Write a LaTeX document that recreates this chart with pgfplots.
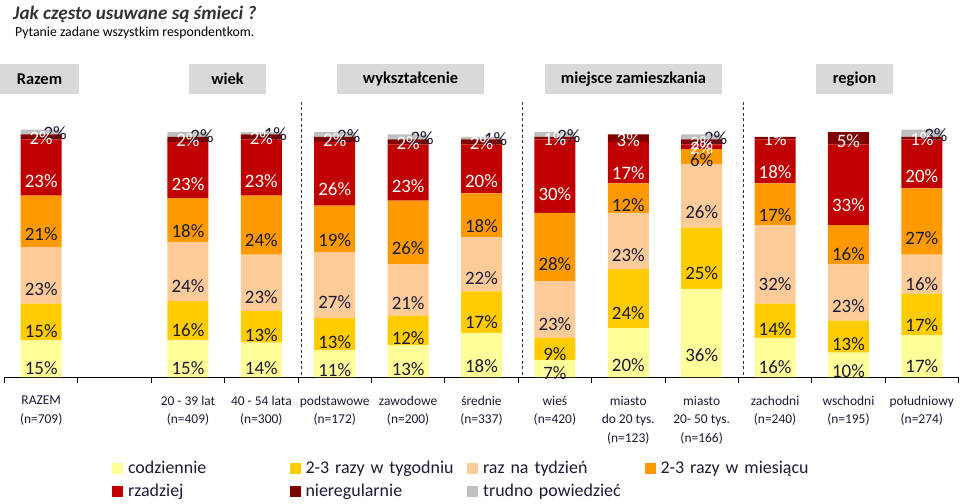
\documentclass[border=0pt]{standalone}
\usepackage{fontspec}
\setmainfont{Carlito}
\usepackage{pgfplots}
\pgfplotsset{compat=1.18}
\usepackage{pgfplotstable}
\definecolor{c1}{HTML}{FFFF99}
\definecolor{c2}{HTML}{FFCC00}
\definecolor{c3}{HTML}{FFCC99}
\definecolor{c4}{HTML}{FF9900}
\definecolor{c5}{HTML}{C00000}
\definecolor{c6}{HTML}{800000}
\definecolor{c7}{HTML}{C0C0C0}
\definecolor{hdr}{HTML}{D9D9D9}
\definecolor{ttl}{HTML}{333333}
\definecolor{lbl}{HTML}{1A1A33}

\pgfplotstableread{
x  c1 c2 c3 c4 c5 c6 c7
0  15 15 23 21 23 2 2
2  15 16 24 18 23 2 2
3  14 13 23 24 23 2 1
4  11 13 27 19 26 2 2
5  13 12 21 26 23 2 2
6  18 17 22 18 20 2 1
7  7  9  23 28 30 1 2
8  20 24 23 12 17 3 0
9  36 25 26 6  2  2 2
10 16 14 32 17 18 1 0
11 10 13 23 16 33 5 0
12 17 17 16 27 20 1 3
}\data

\pgfplotsset{
 seg/.style n args={3}{fill=#1, draw=none,
   nodes near coords={\pgfmathfloatifflags{\pgfplotspointmeta}{0}{}{\pgfmathprintnumber{\pgfplotspointmeta}\%}},
   visualization depends on={\thisrow{#2}\as\rawy},
   every node near coord/.append style={anchor=center, inner sep=0pt, text=#3,
      font=\fontsize{19}{19}\selectfont,
      shift={(axis direction cs:0,-\rawy/4)}}},
}

\begin{document}
\begin{tikzpicture}[x=1bp,y=1bp]
\path[use as bounding box] (0,0) rectangle (963,-504);
\node[anchor=west, inner sep=0, text=ttl, font=\fontsize{19.2}{21}\selectfont\bfseries\itshape] at (13,-14) {Jak często usuwane są śmieci ?};
\node[anchor=west, inner sep=0, font=\fontsize{13.8}{15}\selectfont] at (15,-33) {Pytanie zadane wszystkim respondentkom.};
\foreach \a/\b/\t in {0/79/Razem, 189/266/wiek, 337/484/wykształcenie, 545/722/miejsce zamieszkania, 816/893/region}{
  \fill[hdr] (\a,-64) rectangle (\b,-94);
  \node[font=\fontsize{16.5}{18}\selectfont\bfseries, inner sep=0] at ({(\a+\b)/2},-79) {\t};
}
\foreach \xx in {301,522.5,743}{
  \draw[dash pattern=on 3bp off 2.5bp, line width=0.8bp, black!80] (\xx,-102) -- (\xx,-377);
}
\begin{axis}[
  at={(4.5bp,-377bp)}, anchor=south west,
  scale only axis, width=954bp, height=245bp,
  xmin=-0.5, xmax=12.5, ymin=0, ymax=100,
  clip=false,
  ybar stacked, bar width=41bp,
  hide y axis,
  axis x line*=bottom,
  axis line style={-, black, line width=0.8bp},
  xtick={0,...,12},
  xticklabels={{RAZEM\\(n=709)},{},{20 - 39 lat\\(n=409)},{40 - 54 lata\\(n=300)},{podstawowe\\(n=172)},{zawodowe\\(n=200)},{średnie\\(n=337)},{wieś\\(n=420)},{miasto\\do 20 tys.\\(n=123)},{miasto\\20- 50 tys.\\(n=166)},{zachodni\\(n=240)},{wschodni\\(n=195)},{południowy\\(n=274)}},
  xticklabel style={align=center, anchor=north, inner sep=0pt, text=lbl, font=\fontsize{13.5}{18.5}\selectfont, yshift=-19bp},
  major tick length=0pt,
  minor xtick={-0.5,0.5,...,12.5},
  minor tick length=6bp,
  tick align=outside,
  tick style={black, line width=0.8bp},
  /pgf/number format/assume math mode=true,
  legend columns=4,
  legend image code/.code={\fill[#1] (0bp,-5.5bp) rectangle (11bp,5.5bp);},
  legend style={draw=none, fill=none, inner sep=0pt, outer sep=0pt,
     at={(axis description cs:0.1127,-0.335)}, anchor=north west,
     font=\fontsize{18}{18}\selectfont, text=lbl,
     nodes={inner sep=1bp, text height=13bp, text depth=4bp, text width=150bp, align=left},
     row sep=4bp,
     /tikz/every odd column/.append style={column sep=4bp},
     /tikz/every even column/.append style={column sep=10.5bp}},
  legend cell align=left,
]
\addplot[seg={c1}{c1}{lbl}] table[x=x,y=c1]{\data};
\addplot[seg={c2}{c2}{lbl}] table[x=x,y=c2]{\data};
\addplot[seg={c3}{c3}{lbl}] table[x=x,y=c3]{\data};
\addplot[seg={c4}{c4}{lbl}] table[x=x,y=c4]{\data};
\addplot[seg={c5}{c5}{white}] table[x=x,y=c5]{\data};
\addplot[seg={c6}{c6}{white}] table[x=x,y=c6]{\data};
\addplot[seg={c7}{c7}{lbl}, every node near coord/.append style={xshift=14bp}] table[x=x,y=c7]{\data};
\legend{codziennie, 2-3 razy w tygodniu, raz na tydzień, 2-3 razy w miesiącu, rzadziej, nieregularnie, trudno powiedzieć}
\end{axis}
\end{tikzpicture}
\end{document}
